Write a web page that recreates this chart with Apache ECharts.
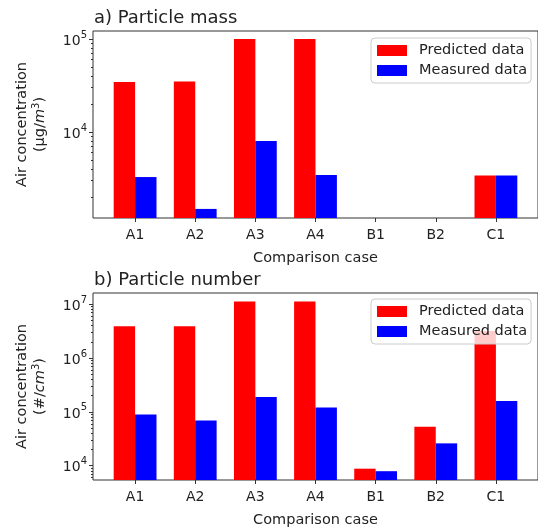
<!DOCTYPE html>
<html>
<head>
<meta charset="utf-8">
<script src="https://cdn.jsdelivr.net/npm/echarts@6/dist/echarts.min.js"></script>
<style>html,body{margin:0;padding:0;background:#fff;}#c{width:538px;height:529px;}</style>
</head>
<body>
<div id="c"></div>
<script>
const categories = ['A1', 'A2', 'A3', 'A4', 'B1', 'B2', 'C1'];
const massPredicted = [34500, 35000, 100000, 100000, null, null, 3400];
const massMeasured = [3280, 1490, 8000, 3450, null, null, 3400];
const numberPredicted = [3.9e6, 3.9e6, 1.12e7, 1.12e7, 8800, 53000, 3.2e6];
const numberMeasured = [89000, 69000, 190000, 120000, 7900, 26000, 160000];
const massMajorTicks = [1e4, 1e5];
const massMinorTicks = [2000, 3000, 4000, 5000, 6000, 7000, 8000, 9000, 20000, 30000, 40000, 50000, 60000, 70000, 80000, 90000];
const numberMajorTicks = [1e4, 1e5, 1e6, 1e7];
const numberMinorTicks = [6000, 7000, 8000, 9000, 2e4, 3e4, 4e4, 5e4, 6e4, 7e4, 8e4, 9e4, 2e5, 3e5, 4e5, 5e5, 6e5, 7e5, 8e5, 9e5, 2e6, 3e6, 4e6, 5e6, 6e6, 7e6, 8e6, 9e6];

const FONT = 'DejaVu Sans';
const TXT = '#222';
const idx = categories.map((_, i) => i);
const toPairs = arr => arr.map((v, i) => v == null ? [i, '-'] : [i, v]);

const chart = echarts.init(document.getElementById('c'));

function xAxisCfg(gridIndex) {
  return {
    type: 'value', gridIndex, min: -0.7, max: 6.7,
    axisLine: { show: false, onZero: false },
    splitLine: { show: false },
    axisTick: { show: true, customValues: idx, length: 4, lineStyle: { color: '#333' } },
    axisLabel: { show: true, customValues: idx, formatter: v => categories[Math.round(v)], fontFamily: FONT, fontSize: 14, color: TXT, margin: 10 },
    name: 'Comparison case', nameLocation: 'middle', nameGap: 33,
    nameTextStyle: { fontFamily: FONT, fontSize: 14.5, color: TXT }
  };
}
function yMajor(gridIndex, min, max, ticks, unitRich) {
  return {
    type: 'log', logBase: 10, gridIndex, min, max, position: 'left',
    axisLine: { show: false, onZero: false }, splitLine: { show: false }, minorTick: { show: false },
    axisTick: { show: true, customValues: ticks, length: 4, lineStyle: { color: '#333' } },
    axisLabel: {
      show: true, customValues: ticks, margin: 6,
      formatter: v => '{b|10}{s|' + Math.round(Math.log10(v)) + '}',
      rich: {
        b: { fontFamily: FONT, fontSize: 14, color: TXT, lineHeight: 18, verticalAlign: 'bottom' },
        s: { fontFamily: FONT, fontSize: 10, color: TXT, lineHeight: 18, verticalAlign: 'top', padding: [0, 0, 6, 0] }
      }
    },
    name: unitRich, nameLocation: 'middle', nameRotate: 90, nameGap: 44,
    nameTextStyle: {
      fontFamily: FONT, fontSize: 14.5, color: TXT, lineHeight: 18,
      rich: {
        t: { fontFamily: FONT, fontSize: 14.5, color: TXT, lineHeight: 18 },
        i: { fontFamily: FONT, fontSize: 14.5, color: TXT, fontStyle: 'italic', lineHeight: 18 },
        s: { fontFamily: FONT, fontSize: 10, color: TXT, verticalAlign: 'top', lineHeight: 18 }
      }
    }
  };
}
function yMinor(gridIndex, min, max, ticks) {
  return {
    type: 'log', logBase: 10, gridIndex, min, max, position: 'left', offset: 0,
    axisLine: { show: false, onZero: false }, splitLine: { show: false }, minorTick: { show: false },
    axisTick: { show: true, customValues: ticks, length: 2, lineStyle: { color: '#333' } },
    axisLabel: { show: false }
  };
}
function legendCfg(top) {
  return {
    top, left: 371, orient: 'vertical', itemWidth: 30, itemHeight: 11, itemGap: 5,
    padding: [5, 4, 5, 6], borderColor: '#ccc', borderWidth: 1, borderRadius: 4,
    backgroundColor: 'rgba(255,255,255,0.8)',
    textStyle: { fontFamily: FONT, fontSize: 14.5, color: TXT, padding: [0, 0, 0, 7] },
    data: [{ name: 'Predicted data', icon: 'rect' }, { name: 'Measured data', icon: 'rect' }]
  };
}
function barSeries(name, color, xi, yi, data) {
  return { type: 'bar', name, xAxisIndex: xi, yAxisIndex: yi, data: toPairs(data), barWidth: 21.4, barGap: '0%', itemStyle: { color }, clip: true };
}

chart.setOption({
  animation: false,
  backgroundColor: '#fff',
  title: [
    { text: 'a) Particle mass', left: 89, top: 4, textStyle: { fontFamily: FONT, fontSize: 18, fontWeight: 'normal', color: TXT } },
    { text: 'b) Particle number', left: 89, top: 266, textStyle: { fontFamily: FONT, fontSize: 18, fontWeight: 'normal', color: TXT } }
  ],
  legend: [legendCfg(38), legendCfg(299)],
  grid: [
    { left: 93, top: 31, width: 453, height: 187, show: true, borderColor: '#333', borderWidth: 1, backgroundColor: 'transparent' },
    { left: 93, top: 293, width: 453, height: 187, show: true, borderColor: '#333', borderWidth: 1, backgroundColor: 'transparent' }
  ],
  xAxis: [xAxisCfg(0), xAxisCfg(1)],
  yAxis: [
    yMajor(0, 1190, 122000, massMajorTicks, '{t|Air concentration}\n{t|(μg/}{i|m}{s|3}{t|)}'),
    yMinor(0, 1190, 122000, massMinorTicks),
    yMajor(1, 5420, 1.62e7, numberMajorTicks, '{t|Air concentration}\n{t|(#/}{i|cm}{s|3}{t|)}'),
    yMinor(1, 5420, 1.62e7, numberMinorTicks)
  ],
  series: [
    barSeries('Predicted data', '#ff0000', 0, 0, massPredicted),
    barSeries('Measured data', '#0000ff', 0, 0, massMeasured),
    barSeries('Predicted data', '#ff0000', 1, 2, numberPredicted),
    barSeries('Measured data', '#0000ff', 1, 2, numberMeasured)
  ]
});
</script>
</body>
</html>
